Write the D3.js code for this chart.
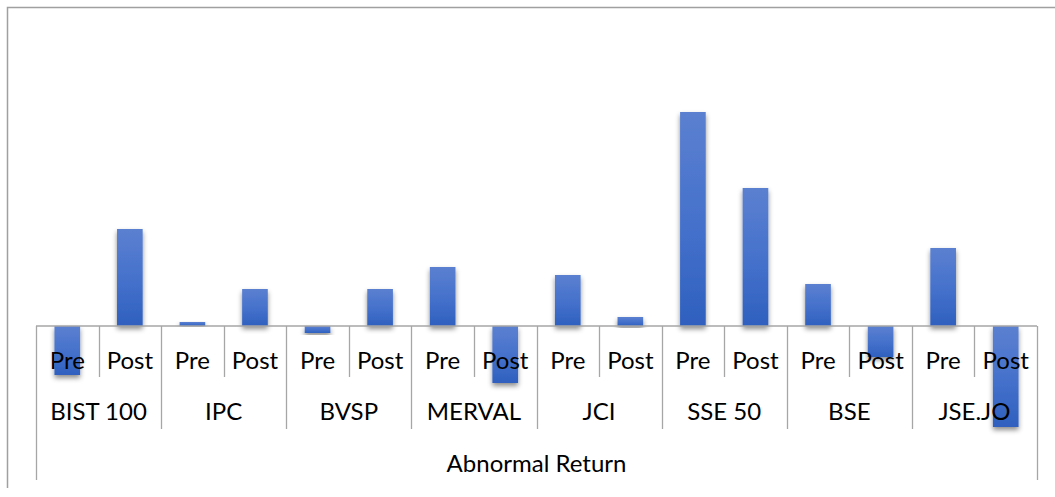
<!DOCTYPE html>
<html lang="en">
<head>
    <meta charset="UTF-8" />
    <script src="https://d3js.org/d3.v7.min.js"></script>
    <title>Abnormal Return</title>
    <style>
        body {
            margin: 0;
            overflow: hidden;
            background: white;
        }
        text {
            font-family: "Lato", "Liberation Sans", sans-serif;
            font-size: 24px;
            fill: #000;
        }
    </style>
</head>
<body>
    <script>
        // index groups and the two periods inside each group
        const indices = ["BIST 100", "IPC", "BVSP", "MERVAL", "JCI", "SSE 50", "BSE", "JSE.JO"];
        const periods = ["Pre", "Post"];
        const axisTitle = "Abnormal Return";

        // values (arbitrary units, one value per index)
        const preValues  = [-0.49, 0.04, -0.07, 0.59, 0.51, 2.14, 0.42, 0.78];
        const postValues = [0.97, 0.37, 0.37, -0.57, 0.09, 1.38, -0.31, -1.01];

        const width = 1055;
        const height = 497;

        const svg = d3.select('body')
            .append('svg')
            .attr('width', width)
            .attr('height', height);

        // flatten into 16 bars
        const data = [];
        indices.forEach((name, i) => {
            data.push({ group: name, period: "Pre", value: preValues[i], key: name + "|Pre" });
            data.push({ group: name, period: "Post", value: postValues[i], key: name + "|Post" });
        });

        const plot = { left: 36, right: 1037, zero: 326 };

        const x = d3.scaleBand()
            .domain(data.map(d => d.key))
            .range([plot.left, plot.right])
            .padding(0);

        // 1 unit = 100px, zero line at 326
        const y = d3.scaleLinear()
            .domain([-1.5, 2.5])
            .range([plot.zero + 150, plot.zero - 250]);

        const barW = x.bandwidth() * 0.41;

        // gradient + soft shadow like the office chart
        const defs = svg.append('defs');
        const grad = defs.append('linearGradient')
            .attr('id', 'barGrad')
            .attr('x1', 0).attr('y1', 0).attr('x2', 0).attr('y2', 1);
        grad.append('stop').attr('offset', '0%').attr('stop-color', '#5b80d0');
        grad.append('stop').attr('offset', '50%').attr('stop-color', '#4672cc');
        grad.append('stop').attr('offset', '100%').attr('stop-color', '#2f60bf');

        const shadow = defs.append('filter')
            .attr('id', 'shadow')
            .attr('x', '-50%').attr('y', '-20%')
            .attr('width', '200%').attr('height', '140%');
        shadow.append('feDropShadow')
            .attr('dx', 0).attr('dy', 3)
            .attr('stdDeviation', 2.5)
            .attr('flood-color', '#000')
            .attr('flood-opacity', 0.45);

        // outer chart border (only top and left are inside the picture)
        svg.append('path')
            .attr('d', `M7.5,488 V7.5 H${width}`)
            .attr('fill', 'none')
            .attr('stroke', '#a0a0a0')
            .attr('stroke-width', 1.5);

        // bars
        svg.append('g')
            .selectAll('rect')
            .data(data)
            .join('rect')
            .attr('x', d => x(d.key) + (x.bandwidth() - barW) / 2)
            .attr('y', d => Math.min(y(d.value), y(0)))
            .attr('width', barW)
            .attr('height', d => Math.abs(y(d.value) - y(0)))
            .attr('fill', 'url(#barGrad)')
            .attr('filter', 'url(#shadow)');

        // category axis: baseline + multi level separators
        const axis = svg.append('g')
            .attr('stroke', '#a6a6a6')
            .attr('stroke-width', 1.3);

        axis.append('line')
            .attr('x1', plot.left).attr('x2', plot.right)
            .attr('y1', y(0)).attr('y2', y(0));

        // separator lines: between Pre/Post short, between groups longer, outer ends longest
        const seps = [];
        data.forEach((d, i) => {
            const xl = x(d.key);
            let bottom;
            if (i === 0) bottom = 480;
            else if (d.period === "Pre") bottom = 429;
            else bottom = 377;
            seps.push({ x: xl, bottom: bottom });
        });
        seps.push({ x: plot.right, bottom: 480 });

        axis.selectAll('line.sep')
            .data(seps)
            .join('line')
            .attr('class', 'sep')
            .attr('x1', d => Math.round(d.x) + 0.5)
            .attr('x2', d => Math.round(d.x) + 0.5)
            .attr('y1', y(0))
            .attr('y2', d => d.bottom);

        // labels drawn after bars so they sit on top
        const labels = svg.append('g').attr('text-anchor', 'middle');

        labels.selectAll('text.period')
            .data(data)
            .join('text')
            .attr('class', 'period')
            .attr('x', d => x(d.key) + x.bandwidth() / 2)
            .attr('y', 369)
            .text(d => d.period);

        labels.selectAll('text.group')
            .data(indices)
            .join('text')
            .attr('class', 'group')
            .attr('x', d => x(d + "|Pre") + x.bandwidth())
            .attr('y', 420)
            .text(d => d);

        labels.append('text')
            .attr('x', (plot.left + plot.right) / 2)
            .attr('y', 472)
            .text(axisTitle);
    </script>
</body>
</html>
